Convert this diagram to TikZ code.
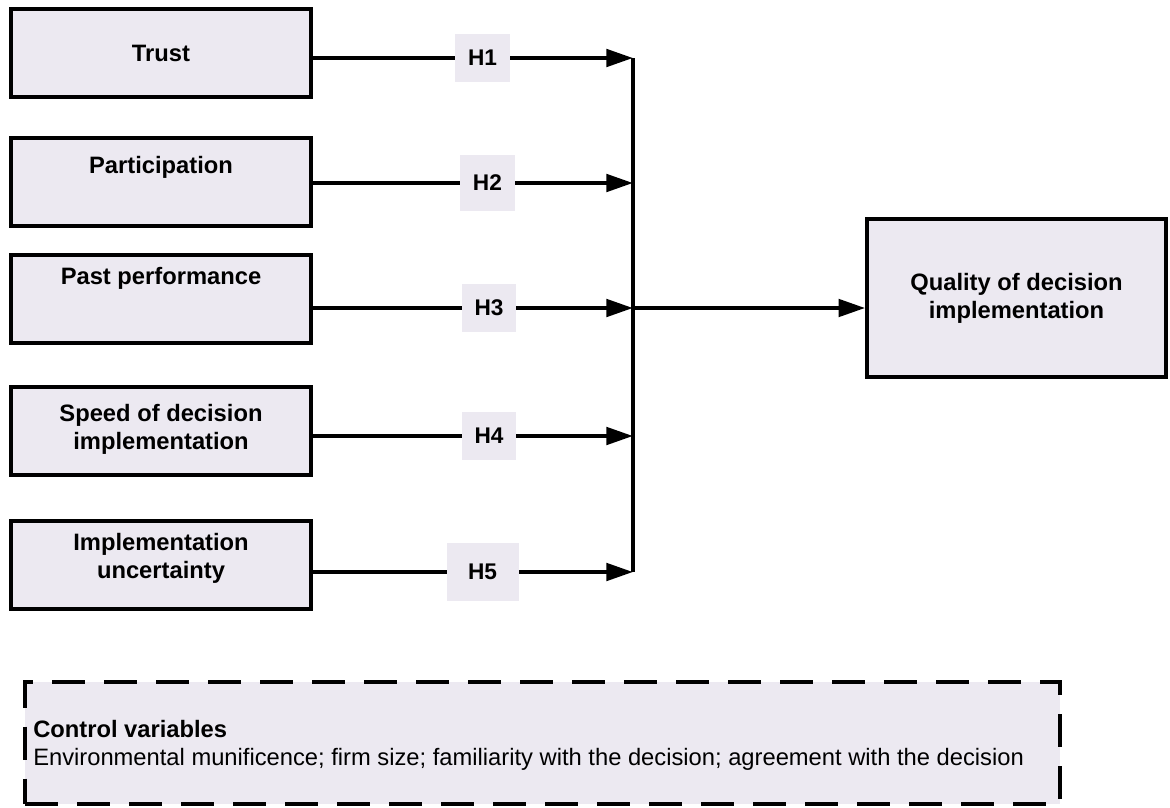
\documentclass[tikz,border=0pt]{standalone}
\usepackage{fontspec}
\setmainfont{Liberation Sans}
\usetikzlibrary{arrows.meta}
\definecolor{boxfill}{RGB}{236,233,241}

\begin{document}
\begin{tikzpicture}[x=0.75pt, y=-0.75pt,
	var/.style={draw, line width=3pt, fill=boxfill, minimum width=225pt, minimum height=66pt, inner sep=0pt},
	txt/.style={font=\fontsize{17.8}{21}\selectfont\bfseries, align=center, inner sep=0pt},
	hyp/.style={fill=boxfill, inner sep=0pt, minimum width=41pt, minimum height=36pt, font=\fontsize{17}{20}\selectfont\bfseries},
	link/.style={line width=3pt, -{Triangle[length=20pt,width=13pt]}},
	ctrlbox/.style={draw, line width=3pt, dash pattern=on 24.75pt off 14.25pt, fill=boxfill, minimum width=776pt, minimum height=91.5pt, inner sep=0pt}]
	\useasboundingbox (0, 0) rectangle (1170, 807);

	% independent variables
	\node[var] (trust) at (161, 53) {};
	\node[var] (part) at (161, 181.5) {};
	\node[var] (past) at (161, 298.5) {};
	\node[var] (speed) at (161, 431) {};
	\node[var] (unc) at (161, 564.5) {};
	\node[txt] (trusttxt) at (trust) {Trust};
	\node[txt] (parttxt) at ([yshift=10.5pt]part.center) {Participation};
	\node[txt] (pasttxt) at ([yshift=15pt]past.center) {Past performance};
	\node[txt] (speedtxt) at ([yshift=1.5pt]speed.center) {Speed of decision\\implementation};
	\node[txt] (unctxt) at ([yshift=4.5pt]unc.center) {Implementation\\uncertainty};

	% dependent variable
	\node[var, minimum width=224pt, minimum height=118.5pt] (quality) at (1016.5, 298) {};
	\node[txt] (qualitytxt) at (quality) {Quality of decision\\implementation};

	% junctions on the bar
	\coordinate (j1) at (633, 58);
	\coordinate (j2) at (633, 183);
	\coordinate (j3) at (633, 308);
	\coordinate (j4) at (633, 436);
	\coordinate (j5) at (633, 572);

	\draw[link] (trust.east |- j1) -- node[hyp, pos=0.53] (h1) {H1} (j1);
	\draw[link] (part.east |- j2) -- node[hyp, pos=0.545, minimum height=42pt] (h2) {H2} (j2);
	\draw[link] (past.east |- j3) -- node[hyp, pos=0.55] (h3) {H3} (j3);
	\draw[link] (speed.east |- j4) -- node[hyp, pos=0.55] (h4) {H4} (j4);
	\draw[link] (unc.east |- j5) -- node[hyp, pos=0.53, minimum width=54pt, minimum height=44pt] (h5) {H5} (j5);
	\draw[line width=3pt] (j1) -- (j5);
	\draw[link] (j3) -- (quality.west |- j3);

	% control variables
	\node[ctrlbox] (ctrl) at (542.5, 743) {};
	\node[anchor=base west, inner sep=0pt, font=\fontsize{17.8}{21}\selectfont\bfseries] (ctrlhead) at (33, 737) {Control variables};
	\node[anchor=base west, inner sep=0pt, font=\fontsize{17.8}{21}\selectfont] (ctrllist) at (33, 765) {Environmental munificence; firm size; familiarity with the decision; agreement with the decision};
\end{tikzpicture}
\end{document}
